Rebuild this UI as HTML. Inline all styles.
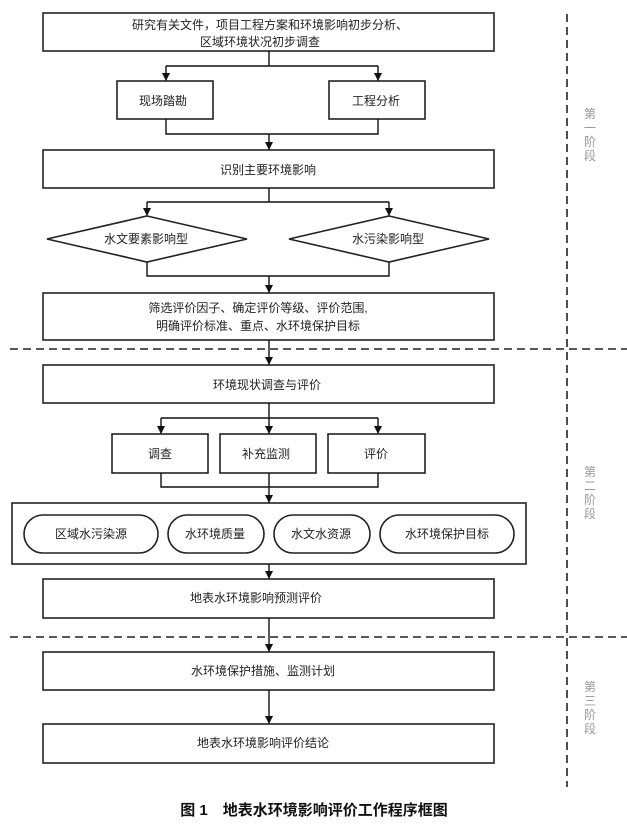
<!DOCTYPE html>
<html><head><meta charset="utf-8"><style>
html,body{margin:0;padding:0;background:#fff}
svg{display:block}
text{font-family:"Liberation Sans","Noto Sans CJK SC",sans-serif;font-size:12px;fill:#222}
.b{fill:#fff;stroke:#222;stroke-width:1.6}
.l{stroke:#111;stroke-width:1.4;fill:none}
.d{stroke:#222;stroke-width:1.6;stroke-dasharray:8,5;fill:none}
.s{fill:#999;font-size:12px}
</style></head><body>
<svg width="627" height="828" viewBox="0 0 627 828" xmlns="http://www.w3.org/2000/svg">
<defs><marker id="a" markerWidth="9" markerHeight="9" refX="8" refY="4" orient="auto" markerUnits="userSpaceOnUse"><path d="M0,0 L8,4 L0,8 z" fill="#111"/></marker></defs>
<line class="d" x1="567" y1="14" x2="567" y2="787"/>
<line class="d" x1="10" y1="349" x2="627" y2="349"/>
<line class="d" x1="10" y1="637" x2="627" y2="637"/>
<g text-anchor="middle">
<text class="s" x="590" y="118">第</text><text class="s" x="590" y="132">一</text><text class="s" x="590" y="146">阶</text><text class="s" x="590" y="160">段</text>
<text class="s" x="590" y="476">第</text><text class="s" x="590" y="490">二</text><text class="s" x="590" y="504">阶</text><text class="s" x="590" y="518">段</text>
<text class="s" x="590" y="691">第</text><text class="s" x="590" y="705">三</text><text class="s" x="590" y="719">阶</text><text class="s" x="590" y="733">段</text>
</g>
<rect class="b" x="43" y="13" width="451" height="38"/>
<text x="270" y="29" text-anchor="middle">研究有关文件，项目工程方案和环境影响初步分析、</text>
<text x="260" y="46" text-anchor="middle">区域环境状况初步调查</text>
<path class="l" d="M269,51 V66 M166,66 H378"/>
<line class="l" x1="166" y1="66" x2="166" y2="81" marker-end="url(#a)"/>
<line class="l" x1="378" y1="66" x2="378" y2="81" marker-end="url(#a)"/>
<rect class="b" x="117" y="81" width="96" height="38"/><text x="163" y="105" text-anchor="middle">现场踏勘</text>
<rect class="b" x="329" y="81" width="96" height="38"/><text x="376" y="105" text-anchor="middle">工程分析</text>
<path class="l" d="M166,119 V134 H378 V119"/>
<line class="l" x1="269" y1="134" x2="269" y2="150" marker-end="url(#a)"/>
<rect class="b" x="43" y="150" width="451" height="38"/><text x="268" y="174" text-anchor="middle">识别主要环境影响</text>
<path class="l" d="M269,188 V202 M147,202 H389"/>
<line class="l" x1="147" y1="202" x2="147" y2="216" marker-end="url(#a)"/>
<line class="l" x1="389" y1="202" x2="389" y2="216" marker-end="url(#a)"/>
<polygon class="b" points="147,216 247,239 147,262 47,239"/><text x="146" y="243" text-anchor="middle">水文要素影响型</text>
<polygon class="b" points="389,216 489,239 389,262 289,239"/><text x="388" y="243" text-anchor="middle">水污染影响型</text>
<path class="l" d="M147,262 V276 H389 V262"/>
<line class="l" x1="269" y1="276" x2="269" y2="293" marker-end="url(#a)"/>
<rect class="b" x="43" y="293" width="451" height="47"/>
<text x="258" y="312" text-anchor="middle">筛选评价因子、确定评价等级、评价范围,</text>
<text x="258" y="330" text-anchor="middle">明确评价标准、重点、水环境保护目标</text>
<line class="l" x1="269" y1="340" x2="269" y2="365" marker-end="url(#a)"/>
<rect class="b" x="43" y="365" width="451" height="38"/>
<text x="267" y="389" text-anchor="middle">环境现状调查与评价</text>
<path class="l" d="M269,403 V418 M161,418 H378"/>
<line class="l" x1="161" y1="418" x2="161" y2="434" marker-end="url(#a)"/>
<line class="l" x1="269" y1="418" x2="269" y2="434" marker-end="url(#a)"/>
<line class="l" x1="378" y1="418" x2="378" y2="434" marker-end="url(#a)"/>
<rect class="b" x="112" y="434" width="96" height="39"/><text x="160" y="458" text-anchor="middle">调查</text>
<rect class="b" x="220" y="434" width="96" height="39"/><text x="266" y="458" text-anchor="middle">补充监测</text>
<rect class="b" x="328" y="434" width="97" height="39"/><text x="376" y="458" text-anchor="middle">评价</text>
<path class="l" d="M161,473 V487 H378 V473"/>
<line class="l" x1="269" y1="473" x2="269" y2="503" marker-end="url(#a)"/>
<rect class="b" x="12" y="503" width="514" height="61"/>
<rect class="b" x="24" y="515" width="134" height="38" rx="19"/><text x="91" y="538" text-anchor="middle">区域水污染源</text>
<rect class="b" x="168" y="515" width="96" height="38" rx="19"/><text x="215" y="538" text-anchor="middle">水环境质量</text>
<rect class="b" x="274" y="515" width="96" height="38" rx="19"/><text x="321" y="538" text-anchor="middle">水文水资源</text>
<rect class="b" x="380" y="515" width="134" height="38" rx="19"/><text x="447" y="538" text-anchor="middle">水环境保护目标</text>
<line class="l" x1="269" y1="564" x2="269" y2="579" marker-end="url(#a)"/>
<rect class="b" x="43" y="579" width="451" height="39"/><text x="256" y="602" text-anchor="middle">地表水环境影响预测评价</text>
<line class="l" x1="269" y1="618" x2="269" y2="652" marker-end="url(#a)"/>
<rect class="b" x="43" y="652" width="451" height="38"/><text x="263" y="675" text-anchor="middle">水环境保护措施、监测计划</text>
<line class="l" x1="269" y1="690" x2="269" y2="724" marker-end="url(#a)"/>
<rect class="b" x="43" y="724" width="451" height="39"/><text x="263" y="747" text-anchor="middle">地表水环境影响评价结论</text>
<text x="314" y="815" text-anchor="middle" style="font-size:15px;font-weight:bold;fill:#111">图 1　地表水环境影响评价工作程序框图</text>
</svg>
</body></html>
